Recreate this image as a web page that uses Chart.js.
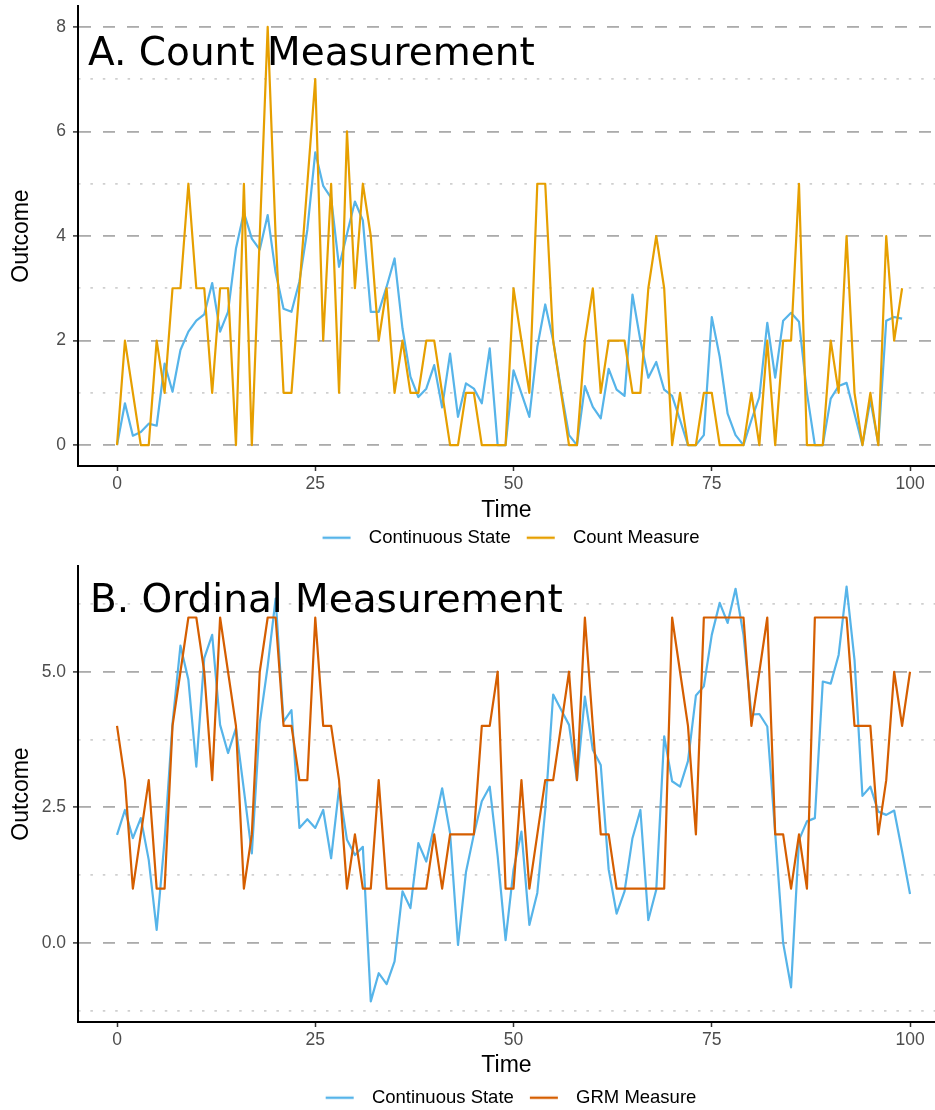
<!DOCTYPE html>
<html>
<head>
<meta charset="utf-8">
<script src="https://cdn.jsdelivr.net/npm/chart.js@4"></script>
<style>
  html, body { margin: 0; padding: 0; background: #fff; overflow: hidden; }
  .panel { position: absolute; left: 0; width: 935px; }
  .tag { position: absolute; font-family: "DejaVu Sans"; font-size: 39px; line-height: 1; color: #000; white-space: nowrap; }
</style>
</head>
<body>
<div class="panel" style="top:0;height:557px"><canvas id="countChart"></canvas></div>
<div class="panel" style="top:555px;height:562px"><canvas id="grmChart"></canvas></div>
<div class="tag" style="left:88px;top:32px">A. Count Measurement</div>
<div class="tag" style="left:90px;top:579px">B. Ordinal Measurement</div>
<script>

// panel A: time 0..99
const timeA = Array(100).fill(null).map((_, i) => i);
const stateA = [0.0, 0.8, 0.18, 0.25, 0.41, 0.37, 1.56, 1.02, 1.82, 2.17,
  2.38, 2.5, 3.1, 2.17, 2.55, 3.76, 4.45, 3.95, 3.74, 4.4,
  3.3, 2.61, 2.55, 3.13, 4.12, 5.6, 4.96, 4.73, 3.41, 4.04,
  4.66, 4.3, 2.55, 2.55, 3.03, 3.57, 2.23, 1.31, 0.92, 1.08,
  1.53, 0.72, 1.75, 0.54, 1.18, 1.08, 0.8, 1.85, 0, 0,
  1.43, 0.99, 0.54, 1.88, 2.69, 2.0, 1.05, 0.19, 0, 1.13,
  0.73, 0.51, 1.46, 1.06, 0.94, 2.88, 2.0, 1.29, 1.59, 1.06,
  0.94, 0.48, 0, 0, 0.19, 2.45, 1.69, 0.6, 0.19, 0,
  0.48, 0.92, 2.34, 1.29, 2.38, 2.53, 2.36, 1.0, 0, 0,
  0.89, 1.13, 1.19, 0.6, 0, 0.86, 0.03, 2.38, 2.45, 2.42];
const countA = [0, 2, 1, 0, 0, 2, 1, 3, 3, 5,
  3, 3, 1, 3, 3, 0, 5, 0, 4, 8,
  4, 1, 1, 3, 5, 7, 2, 5, 1, 6,
  3, 5, 4, 2, 3, 1, 2, 1, 1, 2,
  2, 1, 0, 0, 1, 1, 0, 0, 0, 0,
  3, 2, 1, 5, 5, 2, 1, 0, 0, 2,
  3, 1, 2, 2, 2, 1, 1, 3, 4, 3,
  0, 1, 0, 0, 1, 1, 0, 0, 0, 0,
  1, 0, 2, 0, 2, 2, 5, 0, 0, 0,
  2, 1, 4, 1, 0, 1, 0, 4, 2, 3];

// panel B: time 0..100
const timeB = Array(101).fill(null).map((_, i) => i);
const stateB = [1.99, 2.45, 1.93, 2.3, 1.53, 0.24, 1.9, 4.05, 5.48, 4.85,
  3.25, 5.25, 5.68, 4.02, 3.5, 3.96, 2.82, 1.65, 4.05, 5.1,
  6.35, 4.08, 4.29, 2.12, 2.28, 2.12, 2.45, 1.56, 2.85, 1.9,
  1.62, 1.77, -1.08, -0.56, -0.76, -0.34, 0.95, 0.64, 1.84, 1.5,
  2.16, 2.85, 2.02, -0.04, 1.3, 2.0, 2.61, 2.88, 1.6, 0.05,
  1.35, 2.05, 0.33, 0.92, 2.45, 4.58, 4.3, 4.02, 3.0, 4.54,
  3.56, 3.28, 1.35, 0.54, 0.95, 1.93, 2.45, 0.42, 0.98, 3.81,
  2.98, 2.88, 3.35, 4.56, 4.73, 5.68, 6.27, 5.9, 6.53, 5.68,
  4.21, 4.22, 3.99, 2.02, 0.0, -0.82, 1.9, 2.24, 2.3, 4.82,
  4.78, 5.31, 6.57, 5.22, 2.71, 2.88, 2.42, 2.36, 2.44, 1.69,
  0.9];
const grmB = [4, 3, 1, 2, 3, 1, 1, 4, 5, 6,
  6, 5, 3, 6, 5, 4, 1, 2, 5, 6,
  6, 4, 4, 3, 3, 6, 4, 4, 3, 1,
  2, 1, 1, 3, 1, 1, 1, 1, 1, 1,
  2, 1, 2, 2, 2, 2, 4, 4, 5, 1,
  1, 3, 1, 2, 3, 3, 4, 5, 3, 6,
  4, 2, 2, 1, 1, 1, 1, 1, 1, 1,
  6, 5, 4, 2, 6, 6, 6, 6, 6, 6,
  4, 5, 6, 2, 2, 1, 2, 1, 6, 6,
  6, 6, 6, 4, 4, 4, 2, 3, 5, 4,
  5];

const xTicks = [0, 25, 50, 75, 100];
const yMajorA = [0, 2, 4, 6, 8];
const yMinorA = [1, 3, 5, 7];
const yMajorB = [0, 2.5, 5];
const yMinorB = [-1.25, 1.25, 3.75, 6.25];

const skyBlue = '#56B4E9';
const amber = '#E69F00';
const vermillion = '#D55E00';

Chart.defaults.font.family = 'Liberation Sans';

// legend key: short line with some blank space before it
function makeSwatch(color) {
  const c = document.createElement('canvas');
  c.width = 46;
  c.height = 8;
  const g = c.getContext('2d');
  g.strokeStyle = color;
  g.lineWidth = 2.4;
  g.beginPath();
  g.moveTo(9, 4);
  g.lineTo(37, 4);
  g.stroke();
  return c;
}

function buildPanel(id, cfg) {
  return new Chart(document.getElementById(id), {
    type: 'line',
    data: {
      labels: cfg.time,
      datasets: [
        { label: 'Continuous State', data: cfg.state, borderColor: skyBlue, backgroundColor: skyBlue,
          borderWidth: 2.2, borderJoinStyle: 'round', pointRadius: 0, tension: 0, fill: false, order: 1 },
        { label: cfg.measureLabel, data: cfg.measure, borderColor: cfg.measureColor, backgroundColor: cfg.measureColor,
          borderWidth: 2.2, borderJoinStyle: 'round', pointRadius: 0, tension: 0, fill: false, order: 0 }
      ]
    },
    options: {
      responsive: true,
      maintainAspectRatio: false,
      animation: false,
      layout: { padding: { top: cfg.padTop, right: 0, bottom: 0, left: 0 } },
      plugins: {
        tooltip: { enabled: false },
        legend: {
          position: 'bottom',
          fullSize: false,
          labels: {
            usePointStyle: true,
            pointStyleWidth: 46,
            padding: 7,
            color: '#000',
            font: { size: 18.5 },
            generateLabels: (chart) => Chart.defaults.plugins.legend.labels.generateLabels(chart)
              .sort((a, b) => a.datasetIndex - b.datasetIndex)
              .map(item => Object.assign(item, { pointStyle: makeSwatch(item.strokeStyle) }))
          }
        }
      },
      scales: {
        x: {
          type: 'linear',
          min: -4.92,
          max: 103.15,
          afterBuildTicks: s => { s.ticks = xTicks.map(v => ({ value: v })); },
          afterFit: s => { s.height = cfg.xAxisHeight; },
          grid: { drawOnChartArea: false, drawTicks: true, tickLength: 5, tickColor: '#333', tickWidth: 1.5 },
          border: { display: true, color: '#000', width: 2 },
          ticks: { color: '#4d4d4d', padding: 3, autoSkip: false, maxRotation: 0, font: { size: 17.5 } },
          title: { display: true, text: 'Time', color: '#000', font: { size: 23 },
                   padding: { top: 0, bottom: cfg.timePad } }
        },
        y: {
          type: 'linear',
          position: 'left',
          min: cfg.yMin,
          max: cfg.yMax,
          afterBuildTicks: s => { s.ticks = cfg.yMajor.map(v => ({ value: v })); },
          afterFit: s => { s.width = 78; s.paddingTop = 0; s.paddingBottom = 0; },
          grid: { color: '#ababab', lineWidth: 1.8, tickLength: 5, tickColor: '#333', tickWidth: 1.5 },
          border: { display: true, color: '#000', width: 2, dash: [12, 12] },
          ticks: { color: '#4d4d4d', padding: 7, font: { size: 17.5 }, callback: cfg.yFormat },
          title: { display: true, text: 'Outcome', color: '#000', font: { size: 23 },
                   padding: { top: 8, bottom: 0 } }
        },
        yMinor: {
          type: 'linear',
          position: 'left',
          min: cfg.yMin,
          max: cfg.yMax,
          afterBuildTicks: s => { s.ticks = cfg.yMinor.map(v => ({ value: v })); },
          afterFit: s => { s.width = 0; s.paddingTop = 0; s.paddingBottom = 0; },
          ticks: { display: false },
          grid: { drawOnChartArea: true, drawTicks: false, color: '#cfcfcf', lineWidth: 1.8 },
          border: { display: false, dash: [2.5, 9.9] }
        }
      }
    }
  });
}

buildPanel('countChart', {
  time: timeA, state: stateA, measure: countA,
  measureLabel: 'Count Measure', measureColor: amber,
  yMin: -0.4, yMax: 8.4, yMajor: yMajorA, yMinor: yMinorA,
  yFormat: v => String(v),
  padTop: 6, xAxisHeight: 55.5, timePad: -3
});

buildPanel('grmChart', {
  time: timeB, state: stateB, measure: grmB,
  measureLabel: 'GRM Measure', measureColor: vermillion,
  yMin: -1.46, yMax: 6.95, yMajor: yMajorB, yMinor: yMinorB,
  yFormat: v => v.toFixed(1),
  padTop: 11, xAxisHeight: 59.5, timePad: 2
});
</script>
</body>
</html>
